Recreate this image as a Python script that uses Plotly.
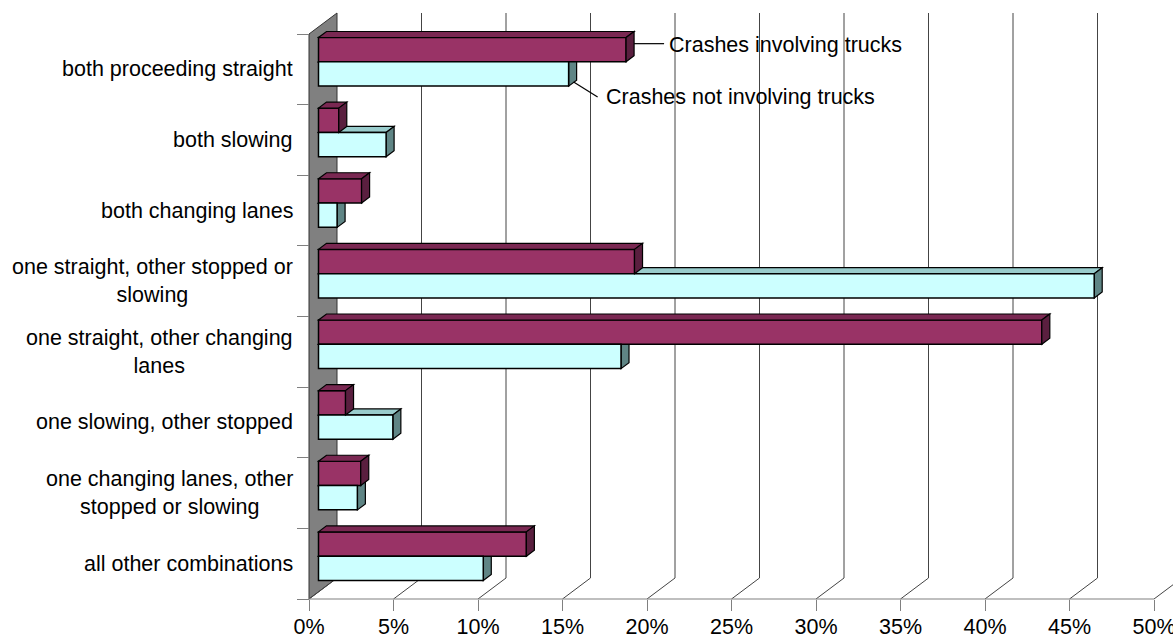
import plotly.graph_objects as go

# ---------------- data ----------------
categories = [
    "both proceeding straight",
    "both slowing",
    "both changing lanes",
    "one straight, other stopped or<br>slowing",
    "one straight, other changing<br>lanes",
    "one slowing, other stopped",
    "one changing lanes, other<br>stopped or slowing",
    "all other combinations",
]
trucks = [18.2, 1.2, 2.55, 18.7, 42.8, 1.6, 2.5, 12.3]
non_trucks = [14.8, 4.0, 1.1, 45.9, 17.9, 4.4, 2.3, 9.75]
series_names = ["Crashes involving trucks", "Crashes not involving trucks"]
x_ticks = [0, 5, 10, 15, 20, 25, 30, 35, 40, 45, 50]
x_tick_labels = [f"{t}%" for t in x_ticks]

# ---------------- geometry / style ----------------
W, H = 1173, 638
X0PX = 309.0          # pixel of 0% on the front floor edge
PXU = 16.9            # pixels per percent
Y_TOP = 34.0          # top of the first category band (front plane)
BAND = 70.625         # pixels per category band
DEPTH_X, DEPTH_Y = 28, 21     # back wall offset
BAR_DX, BAR_DY = 9.5, 7.5     # bar front-plane offset
FACE_DX, FACE_DY = 8, 6       # bar depth
BARGAP = 0.312
GW = 1 - BARGAP
BAR_H = GW / 2 * BAND

FONT = "Liberation Sans, Arial, sans-serif"
FS = 21.5

TRUCK = "#993366"
TRUCK_TOP = "#7A2852"
TRUCK_SIDE = "#5A1F3F"
NT = "#CCFFFF"
NT_TOP = "#99CCCC"
NT_SIDE = "#5F8585"
EDGE = "#000000"

n = len(categories)
ypos = list(range(n))

x_range = [-X0PX / PXU, (W - X0PX) / PXU]
y_bottom = -0.5 + (H - Y_TOP) / BAND
y_topv = -0.5 - Y_TOP / BAND
y_range = [y_bottom, y_topv]
x2_range = [x_range[0] - BAR_DX / PXU, x_range[1] - BAR_DX / PXU]
y2_range = [y_range[0] + BAR_DY / BAND, y_range[1] + BAR_DY / BAND]

fig = go.Figure()

fig.add_trace(go.Bar(
    x=trucks, y=ypos, orientation="h", name=series_names[0],
    marker=dict(color=TRUCK, line=dict(color=EDGE, width=1.5)),
    xaxis="x2", yaxis="y2", hoverinfo="skip",
))
fig.add_trace(go.Bar(
    x=non_trucks, y=ypos, orientation="h", name=series_names[1],
    marker=dict(color=NT, line=dict(color=EDGE, width=1.5)),
    xaxis="x2", yaxis="y2", hoverinfo="skip",
))

shapes = []
dyb = DEPTH_Y / BAND
# side wall (left) in gray
shapes.append(dict(
    type="path", xref="x", yref="y", xsizemode="pixel", xanchor=0,
    path=f"M0,{n-0.5} L0,-0.5 L{DEPTH_X},{-0.5-dyb} L{DEPTH_X},{n-0.5-dyb} Z",
    fillcolor="#808080", line=dict(color="#333333", width=1), layer="below",
))
# back gridlines and floor diagonals
for t in x_ticks:
    if t > 0:
        shapes.append(dict(
            type="path", xref="x", yref="y", xsizemode="pixel", xanchor=t,
            path=f"M{DEPTH_X},{n-0.5-dyb} L{DEPTH_X},{-0.5-dyb}",
            line=dict(color="#444444", width=1), layer="below",
        ))
    shapes.append(dict(
        type="path", xref="x", yref="y", xsizemode="pixel", xanchor=t,
        path=f"M0,{n-0.5} L{DEPTH_X},{n-0.5-dyb}",
        line=dict(color="#444444", width=1), layer="below",
    ))
# floor front edge
shapes.append(dict(type="line", xref="x", yref="y", x0=x_ticks[0], x1=x_ticks[-1],
                   y0=n - 0.5, y1=n - 0.5, line=dict(color="#808080", width=1.2), layer="below"))

# 3D faces of bars
fdx = FACE_DX / PXU
for i in range(n):
    for vals, top_c, side_c, layer, top_edge in (
        (non_trucks, NT_TOP, NT_SIDE, "below", i),
        (trucks, TRUCK_TOP, TRUCK_SIDE, "above", i - GW / 2),
    ):
        v = vals[i]
        shapes.append(dict(
            type="path", xref="x2", yref="y2", ysizemode="pixel", yanchor=top_edge,
            path=f"M0,0 L{v},0 L{v+fdx},{FACE_DY} L{fdx},{FACE_DY} Z",
            fillcolor=top_c, line=dict(color=EDGE, width=1.2), layer=layer,
        ))
        shapes.append(dict(
            type="path", xref="x2", yref="y2", xsizemode="pixel", xanchor=v,
            ysizemode="pixel", yanchor=top_edge,
            path=f"M0,0 L{FACE_DX},{FACE_DY} L{FACE_DX},{FACE_DY-BAR_H} L0,{-BAR_H} Z",
            fillcolor=side_c, line=dict(color=EDGE, width=1.2), layer=layer,
        ))

# leader lines for the series labels (first category)
t_center = 0 - GW / 4
nt_center = 0 + GW / 4
shapes.append(dict(type="path", xref="x2", yref="y2", xsizemode="pixel", xanchor=trucks[0],
                   ysizemode="pixel", yanchor=t_center, path="M8,6 L38,6",
                   line=dict(color=EDGE, width=1.2), layer="above"))
shapes.append(dict(type="path", xref="x2", yref="y2", xsizemode="pixel", xanchor=non_trucks[0],
                   ysizemode="pixel", yanchor=nt_center, path="M5,-8 L29,-23",
                   line=dict(color=EDGE, width=1.2), layer="above"))

annotations = []
for i, c in enumerate(categories):
    annotations.append(dict(
        text=c, xref="paper", yref="y", x=295 / W, y=i, xanchor="right", yanchor="middle",
        align="center", showarrow=False, font=dict(family=FONT, size=FS, color="black"),
    ))
annotations.append(dict(
    text=series_names[0], xref="x2", yref="y2", x=trucks[0], y=t_center,
    xanchor="left", yanchor="middle", xshift=41, yshift=5, showarrow=False,
    font=dict(family=FONT, size=FS, color="black"),
))
annotations.append(dict(
    text=series_names[1], xref="x2", yref="y2", x=non_trucks[0], y=nt_center,
    xanchor="left", yanchor="middle", xshift=35, yshift=-23, showarrow=False,
    font=dict(family=FONT, size=FS, color="black"),
))

fig.update_layout(
    width=W, height=H,
    margin=dict(l=0, r=0, t=0, b=0, autoexpand=False),
    paper_bgcolor="white", plot_bgcolor="white",
    showlegend=False,
    barmode="group", bargap=BARGAP, bargroupgap=0,
    font=dict(family=FONT, size=FS, color="black"),
    xaxis=dict(
        domain=[0, 1], range=x_range, anchor="free", position=1 - (Y_TOP + n * BAND) / H,
        tickmode="array", tickvals=x_ticks, ticktext=x_tick_labels,
        ticks="outside", ticklen=11, tickcolor="#808080", tickwidth=1,
        ticklabeloverflow="allow", ticklabelstandoff=-3,
        showline=False, showgrid=False, zeroline=False,
        tickfont=dict(family=FONT, size=FS, color="black"),
    ),
    yaxis=dict(
        domain=[0, 1], range=y_range, anchor="free", position=X0PX / W,
        tickmode="array", tickvals=[k - 0.5 for k in range(n + 1)],
        ticks="outside", ticklen=12, tickcolor="#808080", tickwidth=1,
        showticklabels=False, showline=False, showgrid=False, zeroline=False,
    ),
    xaxis2=dict(domain=[0, 1], range=x2_range, overlaying="x", anchor="y2", visible=False),
    yaxis2=dict(domain=[0, 1], range=y2_range, overlaying="y", anchor="x2", visible=False),
    shapes=shapes,
    annotations=annotations,
)

fig.write_html(
    "out.html",
    config={"displayModeBar": False},
    post_script="document.body.style.margin='0';document.body.style.overflow='hidden';",
)
